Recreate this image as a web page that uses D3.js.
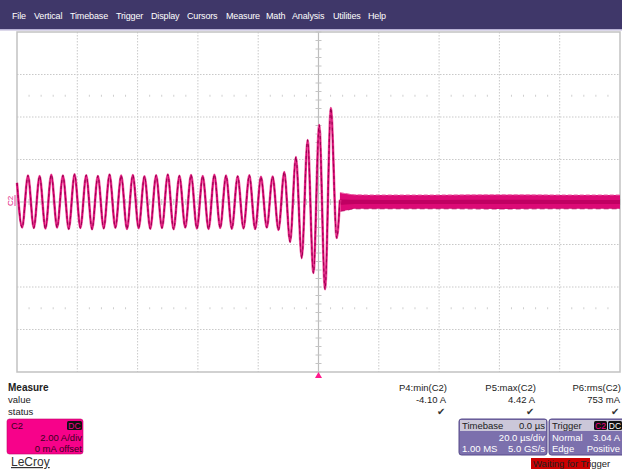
<!DOCTYPE html>
<html><head><meta charset="utf-8">
<script src="https://cdn.jsdelivr.net/npm/d3@7"></script>
<style>
html,body{margin:0;padding:0;background:#fff;}
svg{display:block;font-family:"Liberation Sans",Arial,sans-serif;}
</style></head>
<body>
<script>
// ---------- data ----------
const menuItems = ["File","Vertical","Timebase","Trigger","Display","Cursors","Measure","Math","Analysis","Utilities","Help"];
const menuX = [12,34,70,116,151,187,226,266,292,333,368];

// waveform extrema (time in µs, current in A)
const traceTimes = [-100,-98.29,
 -96.36,-94.43,-92.50,-90.56,-88.63,-86.70,-84.77,-82.84,-80.90,-78.97,
 -77.04,-75.11,-73.18,-71.24,-69.31,-67.38,-65.45,-63.52,-61.58,-59.65,
 -57.72,-55.79,-53.86,-51.92,-49.99,-48.06,-46.13,-44.20,-42.26,-40.33,
 -38.40,-36.47,-34.54,-32.60,-30.67,-28.74,-26.81,-24.88,-22.94,-21.01,
 -19.08,-17.15,-15.22,-13.28,-11.35,-9.42,-7.49,-5.56,-3.62,-1.69,
 0.24,2.17,4.10,6.04,7.1];
const traceValues = [0.9,-1.20,
 1.25,-1.22,1.22,-1.25,1.28,-1.20,1.24,-1.27,1.30,-1.22,
 1.26,-1.28,1.22,-1.24,1.29,-1.21,1.24,-1.27,1.27,-1.23,
 1.21,-1.26,1.26,-1.22,1.29,-1.28,1.23,-1.20,1.27,-1.25,
 1.22,-1.27,1.28,-1.22,1.25,-1.26,1.21,-1.24,1.26,-1.27,
 1.18,-1.20,1.20,-1.32,1.41,-1.88,2.12,-2.64,2.92,-3.34,
 3.62,-4.10,4.42,-1.69,0.1];

// noise band after the event
const bandTimes = [7.1,9,12,20,40,60,80,100];
const bandTop = [0.44,0.40,0.34,0.33,0.33,0.34,0.33,0.33];
const bandBottom = [-0.44,-0.40,-0.32,-0.32,-0.32,-0.33,-0.32,-0.32];

const measLabels = ["P4:min(C2)","P5:max(C2)","P6:rms(C2)"];
const measValues = ["-4.10 A","4.42 A","753 mA"];

// ---------- drawing ----------
const W = 622, H = 469;
const svg = d3.select("body").append("svg").attr("width",W).attr("height",H);

// menu bar
svg.append("rect").attr("x",0).attr("y",0).attr("width",W).attr("height",29).attr("fill","#3f3769");
svg.append("rect").attr("x",0).attr("y",29).attr("width",W).attr("height",1.5).attr("fill","#b9b2d6");
svg.selectAll("text.menu").data(menuItems).enter().append("text")
  .attr("x",(d,i)=>menuX[i]).attr("y",19).attr("fill","#fff").attr("font-size",9)
  .attr("letter-spacing",-0.15).text(d=>d);

// scales
const x = d3.scaleLinear().domain([-100,100]).range([17,620]);
const y = d3.scaleLinear().domain([-8,8]).range([372,32]);

const grid = svg.append("g");
// dotted grid
x.ticks(10).filter(t=>t>-100&&t<100&&t!==0).forEach(t=>{
  grid.append("line").attr("x1",x(t)).attr("x2",x(t)).attr("y1",32).attr("y2",372)
    .attr("stroke","#c9c9c9").attr("stroke-width",1).attr("stroke-dasharray","1.5,1.5");
});
y.ticks(8).filter(v=>v>-8&&v<8&&v!==0).forEach(v=>{
  grid.append("line").attr("x1",17).attr("x2",620).attr("y1",y(v)).attr("y2",y(v))
    .attr("stroke","#c9c9c9").attr("stroke-width",1).attr("stroke-dasharray","1.5,1.5");
});
// sparse dot rows
[5,-5].forEach(v=>{
  d3.range(-100,100,4).filter(t=>(t+100)%20!==0).forEach(t=>{
    grid.append("rect").attr("x",x(t)-0.5).attr("y",y(v)-1).attr("width",1).attr("height",2).attr("fill","#cfcfcf");
  });
});
// center axes
grid.append("line").attr("x1",17).attr("x2",620).attr("y1",y(0)).attr("y2",y(0)).attr("stroke","#bdbdbd").attr("stroke-width",1.2);
grid.append("line").attr("x1",x(0)).attr("x2",x(0)).attr("y1",32).attr("y2",372).attr("stroke","#bdbdbd").attr("stroke-width",1.2);
d3.range(-8,8.01,0.4).forEach(v=>{
  grid.append("line").attr("x1",x(0)-3).attr("x2",x(0)+3).attr("y1",y(v)).attr("y2",y(v)).attr("stroke","#c4c4c4");
});
d3.range(-100,100.1,4).forEach(t=>{
  grid.append("line").attr("x1",x(t)).attr("x2",x(t)).attr("y1",y(0)-3).attr("y2",y(0)+3).attr("stroke","#c4c4c4");
});
// frame
grid.append("rect").attr("x",17).attr("y",32).attr("width",603).attr("height",340)
  .attr("fill","none").attr("stroke","#c2c2c2").attr("stroke-width",1.5);

// noise band
const bandData = bandTimes.map((t,i)=>({t,top:bandTop[i],bot:bandBottom[i]}));
svg.append("path").datum(bandData)
  .attr("d",d3.area().x(d=>x(d.t)).y0(d=>y(d.bot)).y1(d=>y(d.top)).curve(d3.curveMonotoneX))
  .attr("fill","#dc0a76");
svg.append("path").datum(bandData)
  .attr("d",d3.area().x(d=>x(d.t)).y0(d=>y(d.bot*0.3)).y1(d=>y(d.top*0.3)).curve(d3.curveMonotoneX))
  .attr("fill","#c00062");
svg.append("path").datum(bandData)
  .attr("d",d3.line().x(d=>x(d.t)).y(d=>y(d.top)).curve(d3.curveMonotoneX))
  .attr("fill","none").attr("stroke","#ee64a8").attr("stroke-width",1).attr("stroke-dasharray","4,2");
svg.append("path").datum(bandData)
  .attr("d",d3.line().x(d=>x(d.t)).y(d=>y(d.bot)).curve(d3.curveMonotoneX))
  .attr("fill","none").attr("stroke","#b0005a").attr("stroke-width",0.8).attr("stroke-dasharray","5,3");

// main trace
const trace = traceTimes.map((t,i)=>({t,v:traceValues[i]}));
const line = d3.line().x(d=>x(d.t)).y(d=>y(d.v)).curve(d3.curveMonotoneX);
svg.append("path").datum(trace).attr("d",line).attr("fill","none")
  .attr("stroke","#ee6aa8").attr("stroke-width",2.6);
svg.append("path").datum(trace).attr("d",line).attr("fill","none")
  .attr("stroke","#d5006f").attr("stroke-width",1.6);
svg.append("path").datum(trace).attr("d",line).attr("fill","none")
  .attr("stroke","#9e0052").attr("stroke-width",1.1).attr("stroke-dasharray","3,3");

// C2 marker at left
svg.append("text").attr("transform",`translate(13,${y(0)-1}) rotate(-90)`)
  .attr("text-anchor","middle").attr("font-size",8).attr("fill","#e0107a").text("C2");
svg.append("line").attr("x1",15).attr("x2",15).attr("y1",y(0)-7).attr("y2",y(0)+4).attr("stroke","#e0107a").attr("stroke-width",0.8);

// trigger marker
svg.append("path").attr("d",`M${x(0)-3.5},378 L${x(0)+3.5},378 L${x(0)},372 Z`).attr("fill","#ff1a8c");

// ---------- lower panel ----------
const fs = 9.5, tc = "#222";
svg.append("text").attr("x",8).attr("y",391).attr("font-size",10).attr("font-weight","bold").attr("fill",tc).text("Measure");
svg.append("text").attr("x",8).attr("y",403).attr("font-size",fs).attr("fill",tc).text("value");
svg.append("text").attr("x",8).attr("y",415).attr("font-size",fs).attr("fill",tc).text("status");

const measX = [447,536,621];
measLabels.forEach((m,i)=>{
  svg.append("text").attr("x",measX[i]).attr("y",391).attr("text-anchor","end").attr("font-size",fs).attr("fill",tc).text(m);
  svg.append("text").attr("x",measX[i]-1).attr("y",403).attr("text-anchor","end").attr("font-size",fs).attr("fill",tc).text(measValues[i]);
  svg.append("text").attr("x",measX[i]-2).attr("y",415).attr("text-anchor","end").attr("font-size",10).attr("fill","#333").text("✔");
});

// C2 channel box
const c2 = svg.append("g");
c2.append("rect").attr("x",7).attr("y",419).attr("width",76).attr("height",35).attr("rx",2.5).attr("fill","#f7028a").attr("stroke","#c00068").attr("stroke-width",0.6);
c2.append("text").attr("x",11).attr("y",429).attr("font-size",fs).attr("fill","#3a0020").text("C2");
c2.append("rect").attr("x",67).attr("y",421).attr("width",15).attr("height",9).attr("rx",1.5).attr("fill","#111");
c2.append("text").attr("x",74.5).attr("y",429).attr("text-anchor","middle").attr("font-size",8.5).attr("fill","#f7028a").text("DC");
c2.append("text").attr("x",82).attr("y",441).attr("text-anchor","end").attr("font-size",fs).attr("fill","#3a0020").text("2.00 A/div");
c2.append("text").attr("x",82).attr("y",452).attr("text-anchor","end").attr("font-size",fs).attr("fill","#3a0020").text("0 mA offset");
svg.append("text").attr("x",11).attr("y",466).attr("font-size",12).attr("fill","#333").attr("text-decoration","underline").text("LeCroy");

// Timebase box
const tb = svg.append("g");
tb.append("rect").attr("x",459).attr("y",419).attr("width",88).attr("height",36).attr("rx",2.5).attr("fill","#7c70ad").attr("stroke","#564b8a").attr("stroke-width",1);
tb.append("rect").attr("x",460).attr("y",420).attr("width",86).attr("height",11).attr("fill","#cbc7d9");
tb.append("text").attr("x",462).attr("y",429).attr("font-size",fs).attr("fill","#222").text("Timebase");
tb.append("text").attr("x",545).attr("y",429).attr("text-anchor","end").attr("font-size",fs).attr("fill","#222").text("0.0 µs");
tb.append("text").attr("x",545).attr("y",441).attr("text-anchor","end").attr("font-size",fs).attr("fill","#fff").text("20.0 µs/div");
tb.append("text").attr("x",462).attr("y",452).attr("font-size",fs).attr("fill","#fff").text("1.00 MS");
tb.append("text").attr("x",545).attr("y",452).attr("text-anchor","end").attr("font-size",fs).attr("fill","#fff").text("5.0 GS/s");

// Trigger box
const tr = svg.append("g");
tr.append("rect").attr("x",549).attr("y",419).attr("width",80).attr("height",36).attr("rx",2.5).attr("fill","#7c70ad").attr("stroke","#564b8a").attr("stroke-width",1);
tr.append("rect").attr("x",550).attr("y",420).attr("width",72).attr("height",11).attr("fill","#cbc7d9");
tr.append("text").attr("x",552).attr("y",429).attr("font-size",fs).attr("fill","#222").text("Trigger");
tr.append("rect").attr("x",594).attr("y",421).attr("width",13).attr("height",9).attr("rx",1.5).attr("fill","#111");
tr.append("text").attr("x",600.5).attr("y",429).attr("text-anchor","middle").attr("font-size",8.5).attr("fill","#f7028a").text("C2");
tr.append("rect").attr("x",608).attr("y",421).attr("width",14).attr("height",9).attr("rx",1.5).attr("fill","#111");
tr.append("text").attr("x",615).attr("y",429).attr("text-anchor","middle").attr("font-size",8.5).attr("fill","#fff").text("DC");
tr.append("text").attr("x",552).attr("y",441).attr("font-size",fs).attr("fill","#fff").text("Normal");
tr.append("text").attr("x",620).attr("y",441).attr("text-anchor","end").attr("font-size",fs).attr("fill","#fff").text("3.04 A");
tr.append("text").attr("x",552).attr("y",452).attr("font-size",fs).attr("fill","#fff").text("Edge");
tr.append("text").attr("x",620).attr("y",452).attr("text-anchor","end").attr("font-size",fs).attr("fill","#fff").text("Positive");

// status
svg.append("rect").attr("x",531).attr("y",458).attr("width",59).attr("height",11).attr("fill","#cc0000");
svg.append("text").attr("x",533).attr("y",467).attr("font-size",fs).attr("fill","#222").text("Waiting for Trigger");
</script>
</body></html>
